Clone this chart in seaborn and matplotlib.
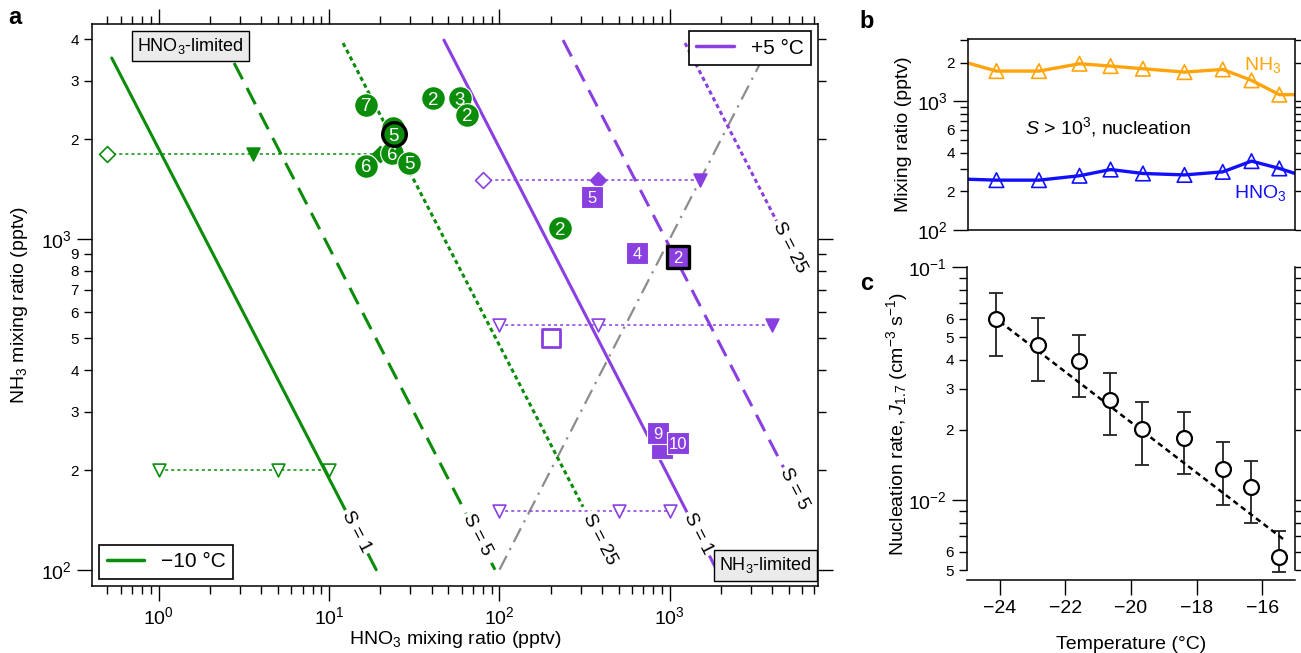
import numpy as np
import matplotlib
matplotlib.use("Agg")
import matplotlib.pyplot as plt
import seaborn as sns
from matplotlib.ticker import LogLocator, FuncFormatter, NullFormatter, NullLocator, FixedLocator
from matplotlib.lines import Line2D

sns.set_theme(style="ticks")
plt.rcParams['font.family'] = ['Liberation Sans', 'DejaVu Sans']
plt.rcParams['mathtext.fontset'] = 'custom'
plt.rcParams['mathtext.rm'] = 'Liberation Sans'
plt.rcParams['mathtext.it'] = 'Liberation Sans:italic'
plt.rcParams['mathtext.bf'] = 'Liberation Sans:bold'
plt.rcParams['axes.linewidth'] = 1.0
plt.rcParams['axes.edgecolor'] = 'black'
plt.rcParams['text.color'] = 'black'
plt.rcParams['axes.labelcolor'] = 'black'
plt.rcParams['xtick.color'] = 'black'
plt.rcParams['ytick.color'] = 'black'

GREEN = "#0b8c0b"
PURPLE = "#8a3fe0"
GRAY = "#8c8c8c"
ORANGE = "#ffa40a"
BLUE = "#1010ff"

# ------------------ Panel a data ------------------
# Saturation-ratio isolines (HNO3, NH3 end points), -10 °C (green) and +5 °C (purple)
cold_s1_x = [0.53, 18.9];   cold_s1_y = [3515, 100]
cold_s5_x = [2.77, 94.1];   cold_s5_y = [3396, 100]
cold_s25_x = [12.07, 309];  cold_s25_y = [3900, 155]
warm_s1_x = [47.2, 1880];   warm_s1_y = [3981, 100]
warm_s5_x = [236, 4730];    warm_s5_y = [3981, 200]
warm_s25_x = [1227, 4256];  warm_s25_y = [3900, 1123]
equal_x = [100, 3400];      equal_y = [100, 3400]
s_labels = ["S = 1", "S = 5", "S = 25"]
cold_label_x = [14.5, 74, 389]
warm_label_x = [1466, 5400, 5070]

# horizontal scan series
cold_hi_x = [0.5, 3.6, 20];      cold_hi_y = [1800, 1800, 1800]
warm_hi_x = [80, 380, 1500];     warm_hi_y = [1500, 1500, 1500]
warm_mid_x = [100, 380, 4000];   warm_mid_y = [550, 550, 550]
warm_lo_x = [100, 500, 1000];    warm_lo_y = [150, 150, 150]
cold_lo_x = [1, 5, 10];          cold_lo_y = [200, 200, 200]
open_sq_x = [200];               open_sq_y = [500]

# numbered nucleation points
cold_pts_lbl = ["", "6", "5", "6", "7", "2", "3", "2", "2", "5"]
cold_pts_x = [23.7, 23.4, 29.5, 16.5, 16.5, 40.7, 58.6, 64.4, 226, 24.0]
cold_pts_y = [2158, 1815, 1695, 1660, 2535, 2660, 2660, 2366, 1077, 2070]
warm_pts_lbl = ["5", "4", "", "9", "10", "2"]
warm_pts_x = [349, 641, 899, 851, 1117, 1117]
warm_pts_y = [1337, 906, 233, 259, 242, 881]

# ------------------ Panel b / c data ------------------
temp = [-24.13, -22.83, -21.59, -20.64, -19.65, -18.38, -17.21, -16.33, -15.48]
nh3 = [1718, 1718, 1959, 1879, 1792, 1687, 1770, 1455, 1127]
hno3 = [244, 244, 264, 295, 275, 268, 283, 343, 301]
line_temp = [-25.0] + temp + [-15.0]
nh3_line = [1983] + nh3 + [1127]
hno3_line = [248] + hno3 + [275]

J = [0.0598, 0.0462, 0.0395, 0.0269, 0.0202, 0.0184, 0.0136, 0.01135, 0.00568]
J_hi = [0.0776, 0.0603, 0.0511, 0.0351, 0.0263, 0.0239, 0.0177, 0.0147, 0.00736]
J_lo = [0.0416, 0.0324, 0.0277, 0.0190, 0.0142, 0.0129, 0.00952, 0.00794, 0.00492]
fit_T = [-24.0, -15.3]
fit_J = [0.0583, 0.0067]

W, H = 1301, 653
fig = plt.figure(figsize=(W / 100, H / 100), dpi=100)


def frac_axes(l, t, r, b):
    return fig.add_axes([l / W, 1 - b / H, (r - l) / W, (b - t) / H])


def digit_fmt(allowed):
    def f(v, pos):
        d = int(round(v / 10 ** np.floor(np.log10(v) + 1e-9)))
        return str(d) if d in allowed else ""
    return FuncFormatter(f)


# ================= Panel a =================
ax = frac_axes(92, 24, 818, 586)
ax.set_xscale('log')
ax.set_yscale('log')
XL = (0.406, 7400)
YL = (89.3, 4453)
ax.set_xlim(*XL)
ax.set_ylim(*YL)

dash_long = (0, (6, 3.2))
dotted = (0, (1.4, 1.1))
lines = [
    (cold_s1_x, cold_s1_y, GREEN, '-'), (cold_s5_x, cold_s5_y, GREEN, dash_long),
    (cold_s25_x, cold_s25_y, GREEN, dotted),
    (warm_s1_x, warm_s1_y, PURPLE, '-'), (warm_s5_x, warm_s5_y, PURPLE, dash_long),
    (warm_s25_x, warm_s25_y, PURPLE, dotted),
]
for xs, ys, c, ls in lines:
    sns.lineplot(x=xs, y=ys, ax=ax, color=c, linestyle=ls, lw=2.2, legend=False, zorder=3)
sns.lineplot(x=equal_x, y=equal_y, ax=ax, color=GRAY, linestyle=(0, (7, 3, 1, 3)),
             lw=1.6, legend=False, zorder=2)

# horizontal scans
hser = [
    (cold_hi_x, cold_hi_y, GREEN, ['D', 'v', 'D'], [False, True, True]),
    (warm_hi_x, warm_hi_y, PURPLE, ['D', 'D', 'v'], [False, True, True]),
    (warm_mid_x, warm_mid_y, PURPLE, ['v', 'v', 'v'], [False, False, True]),
    (warm_lo_x, warm_lo_y, PURPLE, ['v', 'v', 'v'], [False, False, False]),
    (cold_lo_x, cold_lo_y, GREEN, ['v', 'v', 'v'], [False, False, False]),
]
for xs, ys, c, mks, fills in hser:
    sns.lineplot(x=xs, y=ys, ax=ax, color=c, linestyle=(0, (2, 2)), lw=1.1,
                 legend=False, zorder=4)
    for xi, yi, m, f in zip(xs, ys, mks, fills):
        sns.scatterplot(x=[xi], y=[yi], ax=ax, marker=m, s=85 if m == 'v' else 65,
                        facecolor=c if f else 'white', edgecolor=c, linewidth=1.2,
                        legend=False, zorder=5)

sns.scatterplot(x=open_sq_x, y=open_sq_y, ax=ax, marker='s', s=170, facecolor='white',
                edgecolor=PURPLE, linewidth=2, legend=False, zorder=5)

# numbered points
z = 10
for i, (lb, xi, yi) in enumerate(zip(cold_pts_lbl, cold_pts_x, cold_pts_y)):
    bold = (i == len(cold_pts_lbl) - 1)
    sns.scatterplot(x=[xi], y=[yi], ax=ax, marker='o', s=290, color=GREEN,
                    edgecolor='black' if bold else 'white', linewidth=2.4 if bold else 0.8,
                    legend=False, zorder=z)
    ax.text(xi, yi, lb, color='white', fontsize=13.5, ha='center', va='center_baseline',
            zorder=z + 1)
    z += 2
for i, (lb, xi, yi) in enumerate(zip(warm_pts_lbl, warm_pts_x, warm_pts_y)):
    bold = (i == len(warm_pts_lbl) - 1)
    sns.scatterplot(x=[xi], y=[yi], ax=ax, marker='s', s=235, color=PURPLE,
                    edgecolor='black' if bold else 'white', linewidth=2.4 if bold else 0.8,
                    legend=False, zorder=z)
    ax.text(xi, yi, lb, color='white', fontsize=12, ha='center', va='center_baseline',
            zorder=z + 1)
    z += 2

ax.set_xlim(*XL)
ax.set_ylim(*YL)


def label_on_line(xs, ys, xl, text):
    lx = np.log10(xs)
    ly = np.log10(ys)
    slope = (ly[1] - ly[0]) / (lx[1] - lx[0])
    yl = 10 ** (ly[0] + (np.log10(xl) - lx[0]) * slope)
    p0 = ax.transData.transform((xs[0], ys[0]))
    p1 = ax.transData.transform((xs[1], ys[1]))
    ang = np.degrees(np.arctan2(p1[1] - p0[1], p1[0] - p0[0]))
    ax.text(xl, yl, text, rotation=ang, rotation_mode='anchor', ha='center', va='center',
            fontsize=13.5, zorder=6,
            bbox=dict(boxstyle='square,pad=0.12', fc='white', ec='none'))


for (xs, ys), xl, t in zip([(cold_s1_x, cold_s1_y), (cold_s5_x, cold_s5_y),
                            (cold_s25_x, cold_s25_y)], cold_label_x, s_labels):
    label_on_line(xs, ys, xl, t)
for (xs, ys), xl, t in zip([(warm_s1_x, warm_s1_y), (warm_s5_x, warm_s5_y),
                            (warm_s25_x, warm_s25_y)], warm_label_x, s_labels):
    label_on_line(xs, ys, xl, t)

ax.text(0.136, 0.961, "HNO$_3$-limited", transform=ax.transAxes, ha='center', va='center',
        fontsize=13, zorder=30,
        bbox=dict(boxstyle='square,pad=0.3', fc='#ebebeb', ec='black', lw=1))
ax.text(0.928, 0.0365, "NH$_3$-limited", transform=ax.transAxes, ha='center', va='center',
        fontsize=13, zorder=30,
        bbox=dict(boxstyle='square,pad=0.3', fc='#ebebeb', ec='black', lw=1))

leg1 = ax.legend(handles=[Line2D([0], [0], color=GREEN, lw=2.5)], labels=['\u221210 \u00b0C'],
                 loc='lower left', frameon=True, fancybox=False, edgecolor='black',
                 framealpha=1, fontsize=15, handlelength=1.8, borderaxespad=0.35,
                 borderpad=0.35)
leg1.get_frame().set_linewidth(1.2)
leg1.set_zorder(40)
ax.add_artist(leg1)
leg2 = ax.legend(handles=[Line2D([0], [0], color=PURPLE, lw=2.5)], labels=['+5 \u00b0C'],
                 loc='upper right', frameon=True, fancybox=False, edgecolor='black',
                 framealpha=1, fontsize=15, handlelength=1.8, borderaxespad=0.35,
                 borderpad=0.35)
leg2.get_frame().set_linewidth(1.2)
leg2.set_zorder(40)

ax.xaxis.set_major_locator(LogLocator(base=10, numticks=100))
ax.xaxis.set_minor_locator(LogLocator(base=10, subs=np.arange(2, 10), numticks=100))
ax.xaxis.set_minor_formatter(NullFormatter())
ax.yaxis.set_major_locator(LogLocator(base=10, numticks=100))
ax.yaxis.set_minor_locator(FixedLocator([200, 300, 400, 500, 600, 700, 800, 900,
                                         2000, 3000, 4000]))
ax.yaxis.set_minor_formatter(digit_fmt(range(2, 10)))
ax.tick_params(which='both', direction='out', top=True, right=True, width=1, colors='black')
ax.tick_params(which='major', length=11, labelsize=14)
ax.tick_params(which='minor', length=6, labelsize=11)
ax.set_xlabel("HNO$_3$ mixing ratio (pptv)", fontsize=14)
ax.set_ylabel("NH$_3$ mixing ratio (pptv)", fontsize=14)
ax.xaxis.set_label_coords(0.5, -0.076)
ax.yaxis.set_label_coords(-0.086, 0.5)
for s in ax.spines.values():
    s.set_linewidth(1.1)

# ================= Panel b =================
axb = frac_axes(968, 39, 1295, 230)
axb.set_yscale('log')
sns.lineplot(x=line_temp, y=nh3_line, ax=axb, color=ORANGE, lw=2.4, legend=False)
sns.lineplot(x=line_temp, y=hno3_line, ax=axb, color=BLUE, lw=2.4, legend=False)
sns.scatterplot(x=temp, y=nh3, ax=axb, marker='^', s=110, facecolor='none', edgecolor=ORANGE,
                linewidth=1.2, legend=False, zorder=5)
sns.scatterplot(x=temp, y=hno3, ax=axb, marker='^', s=110, facecolor='none', edgecolor=BLUE,
                linewidth=1.2, legend=False, zorder=5)
axb.set_xlim(-25, -15)
axb.set_ylim(100, 3050)
axb.yaxis.set_major_locator(LogLocator(base=10, numticks=100))
axb.yaxis.set_minor_locator(LogLocator(base=10, subs=np.arange(2, 10), numticks=100))
axb.yaxis.set_minor_formatter(digit_fmt([2, 4, 6]))
axb.tick_params(axis='x', bottom=False, labelbottom=False)
axb.tick_params(axis='y', which='both', direction='out', right=True, width=1, colors='black')
axb.tick_params(axis='y', which='major', length=11, labelsize=14)
axb.tick_params(axis='y', which='minor', length=6, labelsize=11)
axb.set_xlabel("")
axb.set_ylabel("Mixing ratio (pptv)", fontsize=14)
axb.yaxis.set_label_coords(-0.171, 0.5)
axb.text(0.428, 0.539, "$S$ > 10$^3$, nucleation", transform=axb.transAxes, ha='center',
         va='center', fontsize=14)
axb.text(0.902, 0.864, "NH$_3$", transform=axb.transAxes, ha='center', va='center',
         fontsize=14, color=ORANGE)
axb.text(0.893, 0.194, "HNO$_3$", transform=axb.transAxes, ha='center', va='center',
         fontsize=14, color=BLUE)
for s in axb.spines.values():
    s.set_linewidth(1.1)

# ================= Panel c =================
axc = frac_axes(967, 267, 1295, 580)
axc.set_yscale('log')
Jarr = np.array(J)
axc.errorbar(temp, J, yerr=[Jarr - np.array(J_lo), np.array(J_hi) - Jarr], fmt='none',
             ecolor='#222222', elinewidth=1.3, capsize=5, capthick=1.3, zorder=3)
sns.lineplot(x=fit_T, y=fit_J, ax=axc, color='black', linestyle=(0, (2.2, 1.6)), lw=1.8,
             legend=False, zorder=4)
sns.scatterplot(x=temp, y=J, ax=axc, marker='o', s=115, facecolor='white', edgecolor='black',
                linewidth=1.6, legend=False, zorder=5)
axc.set_xlim(-25, -15)
axc.set_ylim(4.54e-3, 0.1)
axc.set_xticks([-24, -22, -20, -18, -16])
axc.xaxis.set_minor_locator(NullLocator())
axc.yaxis.set_major_locator(LogLocator(base=10, numticks=100))
axc.yaxis.set_minor_locator(LogLocator(base=10, subs=np.arange(2, 10), numticks=100))
axc.yaxis.set_minor_formatter(digit_fmt([2, 3, 4, 5, 6]))
axc.spines['top'].set_visible(False)
axc.spines['left'].set_bounds(5e-3, 0.1)
axc.spines['right'].set_bounds(5e-3, 0.1)
axc.tick_params(which='both', direction='out', right=True, width=1, colors='black')
axc.tick_params(which='major', length=11, labelsize=14)
axc.tick_params(which='minor', length=6, labelsize=11)
axc.set_xlabel("Temperature (\u00b0C)", fontsize=14)
axc.set_ylabel("Nucleation rate, $J_{1.7}$ (cm$^{-3}$ s$^{-1}$)", fontsize=14)
axc.xaxis.set_label_coords(0.5, -0.18)
axc.yaxis.set_label_coords(-0.174, 0.5)
for s in axc.spines.values():
    s.set_linewidth(1.1)

fig.text(15 / W, 1 - 18 / H, "a", fontsize=17, fontweight='bold', ha='center', va='center')
fig.text(867 / W, 1 - 21 / H, "b", fontsize=17, fontweight='bold', ha='center', va='center')
fig.text(867 / W, 1 - 283 / H, "c", fontsize=17, fontweight='bold', ha='center', va='center')

fig.savefig("out.png", dpi=100)
